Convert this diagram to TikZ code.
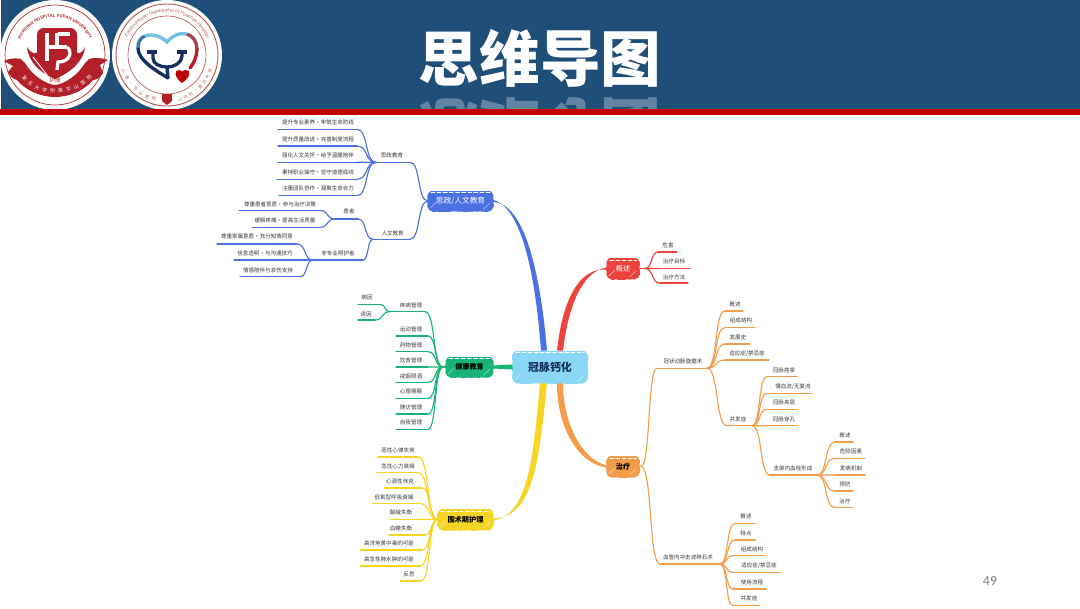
\documentclass[tikz,border=0pt]{standalone}
\usepackage{fontspec}
\setmainfont{Noto Sans CJK SC}
\newfontfamily\latinfont{Liberation Sans}
\newfontfamily\numfont{Carlito}
\usetikzlibrary{calc,decorations.pathmorphing,decorations.text}
\definecolor{headblue}{HTML}{1F4E79}
\definecolor{bandred}{HTML}{C00000}
\definecolor{logored}{HTML}{B3202A}
\definecolor{ringred}{HTML}{B5595A}
\definecolor{navy}{HTML}{14305F}
\definecolor{skyb}{HTML}{6FBFE6}
\definecolor{cblue}{HTML}{4A70E2}
\definecolor{cred}{HTML}{EC443C}
\definecolor{cgreen}{HTML}{17B377}
\definecolor{cyellow}{HTML}{F6D524}
\definecolor{corange}{HTML}{F39C4A}
\definecolor{ccenter}{HTML}{8AD6F7}
\definecolor{labelc}{HTML}{3A3A3A}
\tikzset{
  lbl/.style={inner sep=0pt,text=labelc,font=\fontsize{4.15pt}{5pt}\selectfont},
  twig/.style={line width=.85pt,line cap=round},
  sketch/.style={rounded corners=2.5pt,inner sep=0pt},
  rough/.style={line width=.7pt,decorate,decoration={random steps,segment length=2pt,amplitude=.4pt}},
  hlt/.style={white,line width=.55pt,line cap=round,dash pattern=on 3pt off 1.6pt},
  sl/.style={white,opacity=.55,line width=.45pt}
}
\newcommand{\conn}[2]{\draw[twig] (#1) .. controls ($(#1)!.6!(#2|-#1)$) and ($(#2)!.6!(#1|-#2)$) .. (#2);}
\newcommand{\leaf}[8]{%
  \node[lbl] (#1) at (#3,#4) {#2};
  \coordinate (#1-in) at (#5,#7);
  \coordinate (#1-out) at (#6,#7);
  \draw[twig] (#1-in) -- (#1-out);
  \conn{#1-in}{#8}}
\newcommand{\hl}[2]{%
  \draw[rough,#2] ([shift={(4,0)}]#1.south west) -- ([shift={(-4,0)}]#1.south east);
  \draw[rough,#2] ([shift={(0,-4)}]#1.south west) -- ([shift={(0,4)}]#1.north west);
  \draw[rough,#2] ([shift={(0,-4)}]#1.south east) -- ([shift={(0,4)}]#1.north east);
  \draw[hlt] ([shift={(3,2)}]#1.north west) -- ([shift={(-3,2)}]#1.north east);
  \draw[sl] ([shift={(2,-3)}]#1.south west) -- ([shift={(8,-9)}]#1.south west);
  \draw[sl] ([shift={(-10,-2)}]#1.south east) -- ([shift={(-3,-8)}]#1.south east);}
\begin{document}
\begin{tikzpicture}[x=.75pt,y=-.75pt]
\useasboundingbox (0,0) rectangle (1080,608);
\fill[white] (0,0) rectangle (1080,608);
\fill[headblue] (1,0) rectangle (1080,109);
% title
\node[anchor=base,text=white,font=\fontsize{45.5pt}{48pt}\selectfont\bfseries] (title) at (540,81) {思维导图};
\begin{scope}
  \clip (380,95) rectangle (700,109);
  \begin{scope}[shift={(540,103)},yscale=-1,transform shape]
    \node[anchor=base,text=white,opacity=.3,font=\fontsize{45.5pt}{48pt}\selectfont\bfseries] (titlemirror) at (0,0) {思维导图};
  \end{scope}
\end{scope}
% logo 1
\fill[white] (55,55) circle[radius=41.25pt];
\draw[logored,line width=.5pt] (55,55) circle[radius=37.5pt];
\begin{scope}[shift={(55,55)},y=.75pt]
  \path[decorate,decoration={text along path,text align=center,
    text={|\latinfont\bfseries\color{logored}\fontsize{3.2pt}{4pt}\selectfont|HUASHAN HOSPITAL FUDAN UNIVERSITY}}]
    (165:38) arc[start angle=165,end angle=15,radius=38];
\end{scope}
\fill[logored,rounded corners=5pt] (37,28) rectangle (77,68);
\fill[logored] (27,47) .. controls (28,60) and (38,72) .. (55,79) .. controls (72,72) and (84,60) .. (85,47) .. controls (81,55) and (77,55) .. (76,50) -- (38,50) .. controls (37,55) and (32,55) .. (27,47) -- cycle;
\draw[white,line width=2.4pt] (47,33) -- (47,61) (47,47) -- (57,47) (57,33) -- (57,47) -- (67,47) (58,34) -- (70,34);
\draw[white,line width=2.4pt] (67,47) .. controls (73,52) and (70,62) .. (58,62) -- (57,70);
\draw[white,line width=.7pt] (33,57) -- (47,75);
\fill[logored] (4,61) .. controls (10,58) and (16,58) .. (21,59) -- (25,63) .. controls (32,75) and (45,84) .. (55,85) .. controls (65,84) and (78,75) .. (85,63) -- (89,59) .. controls (95,57) and (102,58) .. (108,60) -- (100,65) -- (103,73) .. controls (100,78) and (96,80) .. (93,80) .. controls (85,90) and (70,97) .. (55,97) .. controls (40,97) and (25,90) .. (17,80) .. controls (13,79) and (10,76) .. (8,72) -- (13,66) -- cycle;
\path[decorate,decoration={text along path,text align={fit to path},
  text={|\color{white}\fontsize{3.6pt}{4pt}\selectfont|复旦大学附属华山医院}}]
  (22,77) .. controls (35,98) and (75,98) .. (92,77);
\node[inner sep=0pt,text=logored,font=\fontsize{4pt}{5pt}\selectfont] (hulilogo) at (55,80.5) {护理};
% logo 2
\fill[white] (167,55) circle[radius=41.25pt];
\draw[ringred,line width=.7pt] (167,55) circle[radius=38.25pt];
\draw[ringred,line width=.5pt] (167,55) circle[radius=29.25pt];
\begin{scope}[shift={(167,55)},y=.75pt]
  \path[decorate,decoration={text along path,text align=center,
    text={|\latinfont\color{ringred}\fontsize{3.5pt}{4pt}\selectfont|Cardiovascular Department of Huashan Hospital}}]
    (178:43) arc[start angle=178,end angle=2,radius=43];
  \path[decorate,decoration={text along path,text align={fit to path},
    text={|\color{ringred}\fontsize{3.1pt}{4pt}\selectfont|上海·华山医院}}]
    (198:47.5) arc[start angle=198,end angle=256,radius=47.5];
  \path[decorate,decoration={text along path,text align={fit to path},
    text={|\color{ringred}\fontsize{3.1pt}{4pt}\selectfont|心内科·复旦大学}}]
    (284:47.5) arc[start angle=284,end angle=342,radius=47.5];
\end{scope}
\fill[logored] (162,94) -- (172,94) -- (172,101) -- (167,105) -- (162,101) -- cycle;
\draw[navy,line width=2.5pt,line cap=round] (168,78) .. controls (155,70) and (138,60) .. (138,48);
\draw[navy!50!skyb,line width=2.5pt] (138,48) .. controls (138,42) and (140,38) .. (145,36);
\draw[skyb,line width=2.5pt] (145,36) .. controls (153,33) and (162,37) .. (167,42) .. controls (172,36) and (180,32) .. (187,34);
\draw[logored!80!skyb,line width=2.5pt] (187,34) .. controls (193,36) and (197,42) .. (197,49);
\draw[logored,line width=2.5pt,line cap=round] (197,49) .. controls (197,56) and (194,63) .. (190,68);
\draw[navy,line width=2.5pt,line cap=round] (153,52) -- (153,58) .. controls (153,64) and (160,67) .. (167,67) .. controls (175,67) and (182,62) .. (182,56) -- (182,52);
\draw[navy,line width=2.5pt] (147,52) -- (157,52) (177,52) -- (187,52);
\draw[navy,line width=2.5pt] (167,67) -- (168,78);
\fill[red!75!black] (182,83) .. controls (174,77) and (174,70) .. (179,70) .. controls (181,70) and (182,71) .. (182,72) .. controls (182,71) and (184,70) .. (186,70) .. controls (191,70) and (191,77) .. (182,83) -- cycle;
% red band
\fill[bandred] (0,109) rectangle (1080,115);
% page number
\node[inner sep=0pt,text=black!48,font=\numfont\fontsize{10.4pt}{12pt}\selectfont] (pagenum) at (990,580.5) {49};
% central and main nodes
\node[sketch,fill=ccenter,minimum width=55.5pt,minimum height=24pt,text=navy,font=\fontsize{8.2pt}{10pt}\selectfont\bfseries] (ctr) at (550,367) {冠脉钙化};
\node[sketch,fill=cblue,minimum width=48.5pt,minimum height=15pt,text=white,font=\fontsize{5.8pt}{7pt}\selectfont] (sz) at (460.5,201) {思政/人文教育};
\node[sketch,fill=cgreen,minimum width=35pt,minimum height=15pt,text=black,font=\fontsize{5.3pt}{7pt}\selectfont\bfseries] (jk) at (469.5,367) {健康教育};
\node[sketch,fill=cyellow,minimum width=41pt,minimum height=15.5pt,text=black,font=\fontsize{5.4pt}{7pt}\selectfont\bfseries] (ws) at (465.5,519.5) {围术期护理};
\node[sketch,fill=cred,minimum width=24pt,minimum height=15.5pt,text=white,font=\fontsize{5.4pt}{7pt}\selectfont] (gs) at (623,268.5) {概述};
\node[sketch,fill=corange,minimum width=24pt,minimum height=15.5pt,text=black,font=\fontsize{5.4pt}{7pt}\selectfont\bfseries] (zl) at (623,466.5) {治疗};
\hl{ctr}{ccenter}\hl{sz}{cblue}\hl{jk}{cgreen}\hl{ws}{cyellow}\hl{gs}{cred}\hl{zl}{corange}
% main links (tapered: thin at the branch node, wide at the centre)
\fill[cblue] ([yshift=-.8pt]sz.east) .. controls (526,203) and (541,280) .. ([xshift=-2.25pt]ctr.north) -- ([xshift=-6.75pt]ctr.north) .. controls (536,282) and (523,207) .. ([yshift=.8pt]sz.east) -- cycle;
\fill[cred] ([xshift=5.25pt]ctr.north) .. controls (562,303) and (578,267) .. ([yshift=-.8pt]gs.west) -- ([yshift=.8pt]gs.west) .. controls (582,271) and (568,307) .. ([xshift=9.75pt]ctr.north) -- cycle;
\fill[cgreen] ([yshift=-1.1pt]jk.east) -- ([yshift=-1.9pt]ctr.west) -- ([yshift=1.9pt]ctr.west) -- ([yshift=1.1pt]jk.east) -- cycle;
\fill[cyellow] ([yshift=-.8pt]ws.east) .. controls (528,515) and (533,460) .. ([xshift=-7.5pt]ctr.south) -- ([xshift=-2.25pt]ctr.south) .. controls (539,462) and (533,518) .. ([yshift=.8pt]ws.east) -- cycle;
\fill[corange] ([xshift=5.25pt]ctr.south) .. controls (557,427) and (578,464) .. ([yshift=-.8pt]zl.west) -- ([yshift=.8pt]zl.west) .. controls (582,460) and (563,423) .. ([xshift=9.75pt]ctr.south) -- cycle;
% blue
\begin{scope}[twig/.append style={draw=cblue}]
\leaf{szjy}{思政教育}{392}{155.7}{410}{376}{162.3}{sz.west}
\leaf{rwjy}{人文教育}{392.7}{233}{410}{373}{239.3}{sz.west}
\leaf{a1}{提升专业素养・牢筑生命防线}{318}{122.7}{357}{278}{129.3}{szjy-out}
\leaf{a2}{提升质量改进・完善制度流程}{318}{139.3}{357}{278}{146}{szjy-out}
\leaf{a3}{强化人文关怀・给予温暖陪伴}{318}{155.7}{357}{278}{162.3}{szjy-out}
\leaf{a4}{秉持职业操守・坚守道德底线}{318}{172.5}{357}{277}{179.3}{szjy-out}
\leaf{a5}{注重团队协作・凝聚生命合力}{318}{188.5}{357}{279}{195.7}{szjy-out}
\leaf{hz}{患者}{349}{211.7}{358}{335}{219}{rwjy-out}
\leaf{fz}{非专业照护者}{338}{253}{363}{313}{260}{rwjy-out}
\leaf{b1}{尊重患者意愿・参与治疗决策}{280}{204.3}{320}{239}{210.5}{hz-out}
\leaf{b2}{缓解疼痛・提高生活质量}{285}{220.7}{320}{252}{227.3}{hz-out}
\leaf{c1}{尊重家属意愿・充分知情同意}{257}{236.7}{297}{217}{244}{fz-out}
\leaf{c2}{信息透明・与沟通技巧}{265}{253}{297}{234}{260}{fz-out}
\leaf{c3}{情感陪伴与哀伤支持}{268}{270}{300}{240}{276.7}{fz-out}
\end{scope}
% green
\coordinate (jkhub) at (443,367);
\begin{scope}[twig/.append style={draw=cgreen}]
\draw[twig] (jkhub) -- (jk.west);
\leaf{d0}{疾病管理}{411}{305.7}{425}{390}{311.7}{jkhub}
\leaf{d1}{运动管理}{411}{329.5}{428}{396}{336}{jkhub}
\leaf{d2}{药物管理}{411}{345}{428}{396}{351.7}{jkhub}
\leaf{d3}{饮食管理}{411}{360.5}{428}{396}{367}{jkhub}
\leaf{d4}{戒烟限酒}{411}{376}{428}{396}{382.3}{jkhub}
\leaf{d5}{心理睡眠}{411}{391.5}{428}{396}{398.3}{jkhub}
\leaf{d6}{随访管理}{411}{407}{428}{396}{414}{jkhub}
\leaf{d7}{自我管理}{411}{422.5}{428}{396}{429.3}{jkhub}
\leaf{e1}{病因}{367}{297.3}{380}{358}{304.3}{d0-out}
\leaf{e2}{诱因}{366}{314}{375}{358}{320}{d0-out}
\end{scope}
% yellow
\begin{scope}[twig/.append style={draw=cyellow}]
\leaf{f1}{恶性心律失常}{398}{450}{418}{378}{457}{ws.west}
\leaf{f2}{急性心力衰竭}{398}{466}{418}{377}{472.5}{ws.west}
\leaf{f3}{心源性休克}{400}{481}{422}{384}{488}{ws.west}
\leaf{f4}{低氧型呼吸衰竭}{394}{497}{420}{372}{503.5}{ws.west}
\leaf{f5}{酸碱失衡}{401}{512.5}{420}{390}{519.5}{ws.west}
\leaf{f6}{血糖失衡}{401}{528}{425}{389}{535}{ws.west}
\leaf{f7}{高洋地黄中毒的可能}{389}{543}{422}{360}{550}{ws.west}
\leaf{f8}{高急性肺水肿的可能}{389}{559}{420}{360}{566}{ws.west}
\leaf{f9}{反思}{409}{574}{421}{400}{581}{ws.west}
\end{scope}
% red
\coordinate (gshub) at (645,268.5);
\begin{scope}[twig/.append style={draw=cred}]
\draw[twig] (gs.east) -- (gshub);
\leaf{g1}{危害}{668}{245.7}{658}{677}{252}{gshub}
\leaf{g2}{治疗目标}{674}{261}{660}{690}{268.5}{gshub}
\leaf{g3}{治疗方法}{674}{277}{660}{688}{283}{gshub}
\end{scope}
% orange
\coordinate (zlhub) at (641,466.5);
\begin{scope}[twig/.append style={draw=corange}]
\draw[twig] (zl.east) -- (zlhub);
\leaf{xm}{冠状动脉旋磨术}{683}{361.7}{657}{707}{368.3}{zlhub}
\leaf{cj}{血管内冲击波碎石术}{688}{557.7}{660}{720}{564}{zlhub}
\leaf{h1}{概述}{735}{304.7}{725}{743}{311}{xm-out}
\leaf{h2}{组成结构}{741}{320.7}{725}{755}{327.7}{xm-out}
\leaf{h3}{发展史}{738}{337}{725}{750}{344}{xm-out}
\leaf{h4}{适应症/禁忌症}{747}{353.5}{725}{769}{360}{xm-out}
\leaf{bf}{并发症}{738}{419}{727}{752}{425.7}{xm-out}
\leaf{i1}{冠脉痉挛}{784}{370}{767}{797}{376.7}{bf-out}
\leaf{i2}{慢血流/无复流}{793}{386.7}{767}{812}{393.3}{bf-out}
\leaf{i3}{冠脉夹层}{784}{402}{767}{798}{409.3}{bf-out}
\leaf{i4}{冠脉穿孔}{784}{419}{767}{798}{425.7}{bf-out}
\leaf{zj}{支架内血栓形成}{793}{468}{770}{817}{475}{bf-out}
\leaf{j1}{概述}{845}{435.7}{835}{853}{442}{zj-out}
\leaf{j2}{危险因素}{851}{451.7}{835}{865}{458.3}{zj-out}
\leaf{j3}{发病机制}{851}{468}{835}{865}{475}{zj-out}
\leaf{j4}{预防}{845}{484}{835}{853}{491}{zj-out}
\leaf{j5}{治疗}{845}{501}{835}{853}{507.7}{zj-out}
\leaf{k1}{概述}{746}{516.7}{735}{755}{523.3}{cj-out}
\leaf{k2}{特点}{746}{533}{735}{755}{540}{cj-out}
\leaf{k3}{组成结构}{752}{549}{733}{766}{555.7}{cj-out}
\leaf{k4}{适应症/禁忌症}{759}{565.5}{733}{780}{572.3}{cj-out}
\leaf{k5}{使用流程}{752}{582}{733}{766}{589}{cj-out}
\leaf{k6}{并发症}{749}{598}{733}{760}{605.7}{cj-out}
\end{scope}
\end{tikzpicture}
\end{document}
